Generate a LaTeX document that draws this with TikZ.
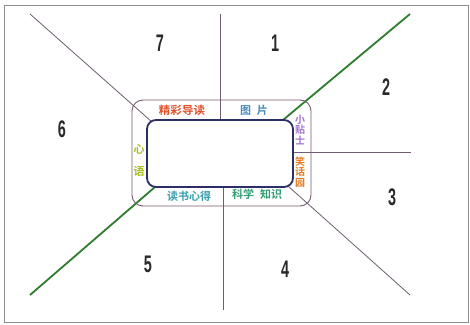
\documentclass[tikz,border=0pt]{standalone}
\usepackage{fontspec}
\setmainfont{Liberation Sans}
\newfontfamily\cjk{Noto Sans CJK SC}[BoldFont={Noto Sans CJK SC Bold}]
\definecolor{frame}{HTML}{8E8E8E}
\definecolor{spoke}{HTML}{6E5E70}
\definecolor{leaf}{HTML}{2E7D2E}
\definecolor{outerbox}{HTML}{7A5A6E}
\definecolor{innerbox}{HTML}{2E2E66}
\definecolor{numcol}{HTML}{2A2A2A}
\definecolor{redlab}{HTML}{E0502A}
\definecolor{bluelab}{HTML}{4A8EC0}
\definecolor{purplab}{HTML}{A070D0}
\definecolor{oranlab}{HTML}{E87A20}
\definecolor{yellab}{HTML}{A8C020}
\definecolor{teallab}{HTML}{3AA0B0}
\definecolor{greenlab}{HTML}{2FA070}
\begin{document}
\begin{tikzpicture}[x=1pt,y=-1pt,
  spokeline/.style={draw=spoke,line width=0.8pt},
  leafline/.style={draw=leaf,line width=1.8pt},
  num/.style={text=numcol,font=\bfseries\fontsize{24}{24}\selectfont,xscale=0.6,inner sep=0pt},
  lab/.style={font=\cjk\bfseries\fontsize{11}{11}\selectfont,inner sep=0pt},
  vlab/.style={font=\cjk\bfseries\fontsize{10}{10.5}\selectfont,inner sep=0pt,align=center}]
% page and frame
\useasboundingbox (0,0) rectangle (470,324);
\fill[white] (0,0) rectangle (470,324);
\draw[frame,line width=1pt] (4,5) rectangle (468,322);

% anchor points on the boxes
\coordinate (tvtop) at (220,14);   \coordinate (tvbot) at (220,119);
\coordinate (bvtop) at (223,188);  \coordinate (bvbot) at (223,310);
\coordinate (tlout) at (30,14);    \coordinate (tlin) at (152,122);
\coordinate (trout) at (410,14);   \coordinate (trin) at (283,120);
\coordinate (blout) at (30,295);   \coordinate (blin) at (155,187);
\coordinate (brout) at (410,295);  \coordinate (brin) at (288,186);
\coordinate (rhin) at (292,152);   \coordinate (rhout) at (411,152);

% spokes
\draw[spokeline] (tvtop) -- (tvbot);
\draw[spokeline] (bvtop) -- (bvbot);
\draw[spokeline] (tlout) -- (tlin);
\draw[spokeline] (brout) -- (brin);
\draw[spokeline] (rhin) -- (rhout);
\draw[leafline] (trout) -- (trin);
\draw[leafline] (blout) -- (blin);

% boxes
\draw[outerbox,line width=0.9pt,rounded corners=11pt] (132,100) rectangle (311,206);
\draw[innerbox,fill=white,line width=1.8pt,rounded corners=9pt] (147,120) rectangle (293,187);

% region numbers
\node[num] (n7) at (160,43) {7};
\node[num] (n1) at (275,43) {1};
\node[num] (n2) at (386,87) {2};
\node[num] (n6) at (62,129) {6};
\node[num] (n3) at (392,197) {3};
\node[num] (n5) at (148,264) {5};
\node[num] (n4) at (285,269) {4};

% section titles round the box
\node[lab,text=redlab,xscale=1.05] (t1) at (182,110) {精彩导读};
\node[lab,text=bluelab] (t2) at (254,110) {图\hspace{6pt}片};
\node[vlab,text=purplab] (t3) at (300,130) {小\\贴\\士};
\node[vlab,text=oranlab] (t4) at (300,172) {笑\\话\\园};
\node[vlab,text=yellab,font=\cjk\bfseries\fontsize{11}{22}\selectfont] (t5) at (139,160) {心\\语};
\node[lab,text=teallab] (t6) at (189,196) {读书心得};
\node[lab,text=greenlab] (t7) at (257,194) {科学\hspace{6pt}知识};
\end{tikzpicture}
\end{document}
